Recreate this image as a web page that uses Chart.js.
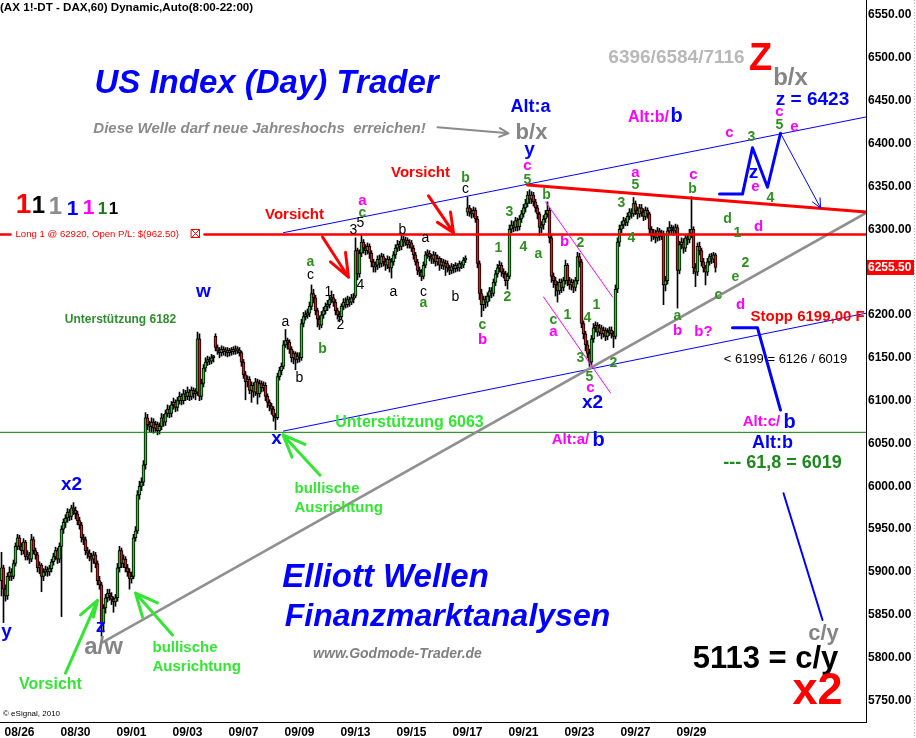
<!DOCTYPE html>
<html><head><meta charset="utf-8">
<script src="https://cdn.jsdelivr.net/npm/chart.js@4.4.0/dist/chart.umd.min.js"></script>
<style>html,body{margin:0;padding:0;background:#fff;overflow:hidden}canvas{display:block}</style>
</head><body>
<canvas id="c" width="916" height="738"></canvas>
<script>
// ---- axis labels ----
const tickLabels = ['08/26','08/30','09/01','09/03','09/07','09/09','09/13','09/15','09/17','09/21','09/23','09/27','09/29'];
const tickBars = [9,37,65,93,121,149,177,205,233,261,289,317,345];
const yTicks = [5750,5800,5850,5900,5950,6000,6050,6100,6150,6200,6250,6300,6350,6400,6450,6500,6550];
const lastPrice = 6255.5;

// ---- hourly DAX candles (8:00-22:00), 08/25 (partial) .. 09/29 ----
const opens = [
5890,5905,5880,5872,5895,5900,5895,5910,5930,
5940,5930,5925,5935,5918,5920,5915,5938,5925,5920,5905,5908,5895,5900,
5903,5900,5904,5912,5918,5925,5915,5930,5950,5958,5963,5970,5965,5975,
5972,5968,5960,5955,5940,5938,5925,5922,5918,5915,5920,5910,5890,5885,
5840,5858,5870,5875,5872,5868,5865,5870,5905,5925,5910,5915,5905,5900,
5892,5895,5940,5948,5990,6000,6005,6025,6080,6072,6070,6075,6068,6072,
6065,6070,6080,6075,6085,6090,6085,6095,6098,6092,6100,6105,6100,6108,
6105,6110,6105,6112,6108,6110,6172,6105,6120,6138,6145,6148,6146,6150,
6175,6162,6158,6156,6160,6157,6159,6156,6158,6157,6160,6158,6159,6156,
6145,6130,6122,6125,6112,6118,6110,6122,6108,6120,6115,6118,6105,6098,
6094,6090,6082,6080,6128,6135,6140,6165,6170,6168,6160,6150,6155,6148,
6152,6150,6190,6198,6200,6202,6210,6225,6220,6205,6195,6188,6200,6205,
6210,6212,6218,6220,6215,6205,6200,6198,6210,6215,6212,6218,6215,6220,
6222,6275,6248,6272,6285,6278,6275,6280,6272,6262,6256,6258,6265,6260,
6268,6262,6258,6265,6255,6262,6270,6278,6282,6280,6288,6285,6287,6282,
6284,6278,6270,6262,6252,6250,6245,6258,6270,6272,6268,6265,6270,6262,
6266,6258,6262,6257,6260,6255,6252,6256,6254,6258,6255,6260,6258,6264,
6320,6325,6320,6318,6322,6312,6260,6225,6212,6218,6215,6222,6228,6225,
6238,6248,6255,6258,6250,6248,6240,6245,6300,6305,6302,6310,6303,6312,
6318,6325,6330,6340,6335,6340,6332,6325,6318,6302,6305,6312,6318,6322,
6290,6245,6240,6235,6228,6238,6232,6240,6258,6240,6235,6238,6232,6240,
6268,6262,6190,6178,6165,6155,6145,6172,6185,6188,6180,6185,6178,6182,
6175,6180,6182,6178,6175,6230,6285,6300,6305,6310,6308,6315,6320,6318,
6330,6322,6318,6325,6320,6315,6322,6318,6300,6292,6295,6290,6298,6292,
6295,6235,6240,6298,6302,6300,6298,6302,6252,6282,6285,6278,6290,6288,
6295,6300,6255,6250,6280,6275,6262,6255,6250,6262,6268,6265,6270];
const highs = [
5923,5908,5885,5899,5906,5904,5914,5934,5944,
5943,5934,5939,5937,5925,5923,5944,5941,5928,5923,5912,5910,5904,5907,
5906,5908,5915,5922,5929,5928,5934,5954,5962,5967,5974,5973,5978,5981,
5976,5971,5964,5958,5944,5941,5929,5926,5922,5924,5923,5913,5895,5888,
5862,5874,5880,5880,5876,5871,5874,5910,5930,5928,5920,5918,5909,5904,
5900,5944,5953,5995,6006,6010,6030,6086,6084,6076,6080,6079,6076,6075,
6074,6085,6084,6089,6095,6094,6099,6103,6101,6104,6110,6108,6113,6112,
6116,6113,6116,6115,6114,6180,6178,6125,6142,6150,6152,6151,6154,6153,
6178,6165,6162,6164,6163,6162,6162,6161,6162,6163,6164,6163,6162,6158,
6148,6134,6129,6128,6122,6121,6126,6125,6124,6123,6122,6121,6108,6101,
6097,6093,6085,6132,6139,6144,6170,6183,6173,6171,6163,6158,6157,6156,
6156,6195,6203,6205,6207,6215,6235,6230,6223,6208,6199,6204,6209,6214,
6217,6222,6228,6224,6218,6208,6204,6213,6219,6220,6222,6221,6224,6225,
6290,6278,6276,6293,6288,6282,6284,6283,6275,6265,6262,6269,6270,6272,
6271,6266,6269,6268,6266,6274,6282,6287,6286,6294,6292,6291,6290,6288,
6287,6281,6273,6265,6256,6253,6262,6274,6276,6275,6271,6274,6273,6270,
6268,6266,6265,6264,6263,6258,6260,6259,6261,6260,6263,6262,6267,6269,
6338,6328,6324,6326,6325,6315,6263,6230,6222,6222,6226,6232,6232,6242,
6252,6259,6263,6261,6254,6251,6249,6305,6310,6309,6314,6313,6316,6322,
6329,6335,6344,6346,6344,6343,6335,6328,6320,6309,6316,6322,6332,6325,
6293,6249,6244,6239,6242,6242,6244,6264,6260,6244,6242,6241,6244,6273,
6272,6265,6193,6181,6170,6160,6176,6190,6192,6191,6189,6188,6186,6185,
6184,6186,6186,6181,6235,6290,6305,6309,6314,6313,6319,6324,6324,6337,
6333,6326,6329,6329,6324,6326,6325,6320,6303,6300,6299,6302,6301,6299,
6298,6245,6302,6309,6305,6304,6306,6305,6286,6290,6289,6294,6293,6300,
6338,6303,6260,6284,6285,6278,6266,6258,6266,6271,6272,6273,6272];
const lows = [
5872,5841,5866,5868,5890,5890,5892,5907,5926,
5926,5920,5921,5914,5914,5910,5912,5921,5915,5900,5898,5877,5890,5896,
5895,5896,5900,5908,5914,5910,5911,5848,5945,5952,5958,5960,5961,5967,
5962,5955,5950,5935,5932,5920,5916,5913,5900,5910,5905,5885,5880,5825,
5830,5852,5865,5867,5862,5853,5860,5866,5900,5905,5905,5900,5895,5880,
5887,5892,5936,5945,5985,5995,6001,6020,6066,6064,6063,6062,6064,6060,
6061,6066,6070,6071,6081,6080,6081,6090,6087,6088,6096,6095,6096,6100,
6101,6100,6101,6103,6101,6106,6100,6101,6116,6134,6141,6142,6143,6145,
6158,6154,6150,6152,6153,6152,6151,6152,6153,6154,6154,6155,6152,6140,
6126,6101,6116,6108,6098,6104,6106,6096,6104,6110,6111,6100,6092,6088,
6084,6076,6066,6078,6124,6130,6137,6162,6160,6155,6145,6143,6136,6144,
6145,6147,6186,6194,6196,6198,6206,6214,6200,6186,6183,6185,6196,6201,
6205,6208,6214,6210,6200,6195,6192,6195,6206,6208,6209,6210,6212,6214,
6220,6241,6244,6268,6272,6270,6271,6266,6256,6250,6250,6253,6255,6256,
6257,6252,6254,6250,6243,6258,6266,6274,6275,6276,6280,6281,6278,6278,
6274,6265,6258,6247,6245,6240,6242,6255,6266,6263,6260,6260,6257,6258,
6252,6254,6253,6246,6250,6247,6248,6249,6250,6251,6251,6254,6255,6261,
6316,6315,6313,6314,6308,6255,6218,6198,6205,6208,6210,6216,6220,6222,
6234,6244,6250,6245,6243,6234,6230,6242,6296,6297,6298,6298,6299,6308,
6314,6320,6326,6330,6330,6327,6320,6312,6293,6296,6300,6308,6314,6284,
6238,6232,6222,6215,6224,6226,6228,6236,6234,6230,6229,6226,6228,6236,
6256,6185,6172,6158,6150,6140,6142,6168,6180,6175,6176,6172,6174,6170,
6171,6176,6173,6162,6172,6226,6280,6296,6301,6304,6304,6311,6313,6315,
6317,6312,6314,6315,6310,6311,6313,6295,6286,6288,6284,6286,6287,6288,
6212,6228,6236,6294,6295,6293,6294,6208,6248,6277,6272,6274,6282,6284,
6290,6248,6233,6246,6270,6257,6250,6235,6246,6258,6260,6261,6250];
const closes = [
5905,5880,5872,5895,5900,5895,5910,5930,5940,
5930,5925,5935,5918,5920,5915,5938,5925,5920,5905,5908,5895,5900,5903,
5900,5904,5912,5918,5925,5915,5930,5950,5958,5963,5970,5965,5975,5972,
5968,5960,5955,5940,5938,5925,5922,5918,5915,5920,5910,5890,5885,5840,
5858,5870,5875,5872,5868,5865,5870,5905,5925,5910,5915,5905,5900,5892,
5895,5940,5948,5990,6000,6005,6025,6080,6072,6070,6075,6068,6072,6065,
6070,6080,6075,6085,6090,6085,6095,6098,6092,6100,6105,6100,6108,6105,
6110,6105,6112,6108,6110,6172,6105,6120,6138,6145,6148,6146,6150,6150,
6162,6158,6156,6160,6157,6159,6156,6158,6157,6160,6158,6159,6156,6145,
6130,6122,6125,6112,6118,6110,6122,6108,6120,6115,6118,6105,6098,6094,
6090,6082,6080,6128,6135,6140,6165,6170,6168,6160,6150,6155,6148,6152,
6150,6190,6198,6200,6202,6210,6225,6220,6205,6195,6188,6200,6205,6210,
6212,6218,6220,6215,6205,6200,6198,6210,6215,6212,6218,6215,6220,6218,
6275,6248,6272,6285,6278,6275,6280,6272,6262,6256,6258,6265,6260,6268,
6262,6258,6265,6255,6262,6270,6278,6282,6280,6288,6285,6287,6282,6284,
6278,6270,6262,6252,6250,6245,6258,6270,6272,6268,6265,6270,6262,6266,
6258,6262,6257,6260,6255,6252,6256,6254,6258,6255,6260,6258,6264,6266,
6325,6320,6318,6322,6312,6260,6225,6212,6218,6215,6222,6228,6225,6238,
6248,6255,6258,6250,6248,6240,6245,6300,6305,6302,6310,6303,6312,6318,
6325,6330,6340,6335,6340,6332,6325,6318,6302,6305,6312,6318,6322,6290,
6245,6240,6235,6228,6238,6232,6240,6258,6240,6235,6238,6232,6240,6268,
6262,6190,6178,6165,6155,6145,6172,6185,6188,6180,6185,6178,6182,6175,
6180,6182,6178,6175,6230,6285,6300,6305,6310,6308,6315,6320,6318,6330,
6322,6318,6325,6320,6315,6322,6318,6300,6292,6295,6290,6298,6292,6295,
6235,6240,6298,6302,6300,6298,6302,6252,6282,6285,6278,6290,6288,6295,
6300,6255,6250,6280,6275,6262,6255,6250,6262,6268,6265,6270,6255.5];

// ---- annotations (bar index, price) ----
const FONT = "'Liberation Sans', Arial, Helvetica, sans-serif";
const C = {blue:'#0000ff', mag:'#ff00ff', grn:'#2f8f1f', lime:'#33e633', red:'#ff0000', gray:'#858585', blk:'#000000'};
const waveStyle = {
  B:['bold 19px', C.blue], M:['bold 15px', C.mag], G:['bold 14px', C.grn], K:['14px', C.blk]
};
const waveLabels = [
['y',2.5,5830,'B'],['x2',35,6001.5,'B'],['z',49.5,5836,'B'],['w',101,6227,'B'],['x',137.5,6056,'B'],
['y',264,6392.5,'B'],['x2',295.5,6098,'B'],['z',376,6366,'B'],
['a',180.5,6333,'M'],['c',263,6374,'M'],['b',240.5,6171,'M'],['b',281.5,6285,'M'],['a',276,6180,'M'],
['c',294.5,6115,'M'],['a',317,6366,'M'],['c',346,6363,'M'],['d',378.5,6303,'M'],['d',369.5,6212,'M'],
['b',338,6181,'M'],['b?',351,6180,'M'],['c',364,6412,'M'],['e',377,6349,'M'],['c',389,6437,'M'],['e',396.5,6419,'M'],
['a',154.5,6262,'G'],['c',180.5,6319,'G'],['b',160.5,6160,'G'],['b',232,6360,'G'],['c',240.5,6188,'G'],
['a',211,6214,'G'],['1',248.5,6278,'G'],['2',253,6221,'G'],['3',254,6320,'G'],['4',261,6279,'G'],
['5',263,6357,'G'],['a',268.5,6271,'G'],['b',272.5,6340,'G'],['2',289.5,6284,'G'],['c',276,6194,'G'],
['1',283,6200,'G'],['1',297.5,6212,'G'],['4',293,6196,'G'],['3',289.5,6150,'G'],['5',294,6127,'G'],
['2',306,6144,'G'],['5',317,6352,'G'],['3',310,6331,'G'],['4',315,6290,'G'],['b',345.5,6347,'G'],
['d',363,6312,'G'],['1',368,6296,'G'],['2',372,6261,'G'],['e',367,6244,'G'],['c',358.5,6223,'G'],
['a',338,6199,'G'],['3',375,6408,'G'],['4',384.5,6336,'G'],['5',389,6422,'G'],
['a',142,6192,'K'],['b',149,6126,'K'],['c',154.5,6247,'K'],['1',163.5,6227,'K'],['2',169.5,6188,'K'],
['3',176,6299,'K'],['5',179.5,6307,'K'],['4',179.5,6235,'K'],['b',200.5,6299,'K'],['a',196,6227,'K'],
['a',212,6290,'K'],['c',211,6227,'K'],['b',227,6221,'K'],['c',232,6347,'K']
];
const textNotes = [
['US Index (Day) Trader',132.5,6469.5,'italic bold 33px',C.blue,'center'],
['Diese Welle darf neue Jahreshochs  erreichen!',129,6417,'italic bold 15px','#8a8a8a','center'],
['b/x',265,6412,'bold 22px',C.gray,'center'],
['Alt:a',264.5,6442.6,'bold 18px',C.blue,'center'],
['6396/6584/7116',337.5,6500,'bold 19px','#b8b8b8','center'],
['Z',379.5,6497.5,'bold 38px',C.red,'center'],
['b/x',394.5,6476.5,'bold 24px',C.gray,'center'],
['z = 6423',405.5,6451,'bold 19px',C.blue,'center'],
['Alt:b/',323.5,6430,'bold 16px',C.mag,'center'],
['b',337.5,6431,'bold 20px',C.blue,'center'],
['Vorsicht',146.5,6316.6,'bold 15px',C.red,'center'],
['Vorsicht',209.5,6365.6,'bold 15px',C.red,'center'],
['Stopp 6199,00 F',374.5,6197.6,'bold 15px',C.red,'left'],
['< 6199 = 6126 / 6019',392,6148.5,'13px',C.blk,'center'],
['Alt:c/',380,6075,'bold 15px',C.mag,'center'],
['b',394,6075,'bold 20px',C.blue,'center'],
['Alt:b',385.5,6050.5,'bold 18px',C.blue,'center'],
['--- 61,8 = 6019',390.5,6027,'bold 18px','#1e8a1e','center'],
['Alt:a/',284.5,6054,'bold 15px',C.mag,'center'],
['b',298.5,6054,'bold 20px',C.blue,'center'],
['c/y',411,5827.6,'bold 22px',C.gray,'center'],
['5113 = c/y',382,5798.5,'bold 31px',C.blk,'center'],
['x2',408,5760,'bold 45px',C.red,'center'],
['a/w',51,5812.5,'bold 24px',C.gray,'center'],
['Unterstützung 6182',59.5,6195,'bold 12px','#2f8f2f','center'],
['Unterstützung 6063',204,6074,'bold 16px',C.lime,'center'],
['bullische',146.5,5997,'bold 15px',C.lime,'left'],
['Ausrichtung',146.5,5975,'bold 15px',C.lime,'left'],
['bullische',75.5,5811,'bold 15px',C.lime,'left'],
['Ausrichtung',75.5,5789,'bold 15px',C.lime,'left'],
['Vorsicht',24.5,5769,'bold 16px',C.lime,'center'],
['Elliott Wellen',192,5893,'italic bold 33px',C.blue,'center'],
['Finanzmarktanalysen',223,5847.5,'italic bold 32px',C.blue,'center'],
['www.Godmode-Trader.de',198,5804,'italic bold 14px','#808080','center'],
['Long 1 @ 62920, Open P/L: $(962.50)',7,6294,'9.6px',C.red,'left']
];
const ones = [
['1',11,6328,'bold 28px',C.red],['1',18.5,6327,'bold 24px',C.blk],['1',27,6326,'bold 24px','#8c8c8c'],
['1',35.5,6323.5,'bold 21px',C.blue],['1',43.5,6324,'bold 21px',C.mag],['1',50.5,6323.5,'bold 17px','#1a7a1a'],
['1',56,6323.5,'bold 17px',C.blk]
];
// trend lines: points [bar, price], color, width
const trendLines = [
[[[-0.75,6063],[432.25,6063]],'#008000',1],
[[[141,6296],[432.25,6431]],C.blue,1],
[[[141,6064.5],[432.25,6202]],C.blue,1],
[[[50.5,5818],[432.25,6319]],'#8f8f8f',2.5],
[[[-0.75,6294],[4.5,6294]],C.red,2.5],
[[[101.5,6294],[432.25,6294]],C.red,2.5],
[[[263,6351.6],[432.25,6320]],C.red,3],
[[[272,6332],[305.5,6221]],C.mag,1],
[[[271,6221],[304.5,6109]],C.mag,1],
[[[359,6341],[370.5,6341],[375.5,6395],[383,6349],[389.5,6412]],C.blue,3],
[[[365.5,6185],[378,6185],[389.5,6089]],C.blue,3],
[[[391,5992],[410.5,5844]],C.blue,2]
];
const arrows = [ // [from, to], color, width
[[389.5,6412],[409.5,6325],C.blue,1,10],
[[218,6419],[253.5,6412],'#8a8a8a',2,10]
];
const fans = [ // apex, tails, color
[[173.5,6244],[[160.5,6291],[164.5,6262],[172,6273]],C.red],
[[226,6296],[[213.5,6339],[218,6308],[224.5,6320]],C.red],
[[140.75,6060],[[159.25,6013],[151.75,6049],[145.25,6034]],C.lime],
[[48,5867],[[32,5782],[39.5,5850],[46,5847.5]],C.lime],
[[67,5875.5],[[85.5,5826.5],[78,5864],[70.5,5847.5]],C.lime]
];

const wick = closes.map((c,i)=>({x:i, y:[lows[i], highs[i]]}));
const body = closes.map((c,i)=>({x:i, y:[opens[i], c]}));
const bodyColor = closes.map((c,i)=> c>=opens[i] ? '#1fcf1f' : '#e01818');

const bg = {id:'bg', beforeDraw(ch){const c=ch.ctx; c.save(); c.fillStyle='#fff'; c.fillRect(0,0,ch.width,ch.height); c.restore();}};

const annot = {
  id:'annot',
  afterDatasetsDraw(ch){
    const ctx = ch.ctx, xs = ch.scales.x, ys = ch.scales.y, a = ch.chartArea;
    const X = v=>xs.getPixelForValue(v), Y = v=>ys.getPixelForValue(v);
    ctx.save();
    ctx.beginPath(); ctx.rect(a.left, a.top, a.right-a.left, a.bottom-a.top); ctx.clip();
    ctx.lineCap='round'; ctx.lineJoin='round';
    for (const [pts,col,w] of trendLines){
      ctx.beginPath(); ctx.strokeStyle=col; ctx.lineWidth=w;
      pts.forEach((p,k)=> k? ctx.lineTo(X(p[0]),Y(p[1])) : ctx.moveTo(X(p[0]),Y(p[1])));
      ctx.stroke();
    }
    for (const [f,t,col,w,hl] of arrows){
      const x1=X(f[0]),y1=Y(f[1]),x2=X(t[0]),y2=Y(t[1]);
      ctx.beginPath(); ctx.strokeStyle=col; ctx.lineWidth=w;
      ctx.moveTo(x1,y1); ctx.lineTo(x2,y2);
      const ang=Math.atan2(y2-y1,x2-x1);
      for (const s of [-0.45,0.45]){ ctx.moveTo(x2,y2); ctx.lineTo(x2-hl*Math.cos(ang+s), y2-hl*Math.sin(ang+s)); }
      ctx.stroke();
    }
    for (const [ap,tails,col] of fans){
      ctx.beginPath(); ctx.strokeStyle=col; ctx.lineWidth=3;
      for (const t of tails){ ctx.moveTo(X(t[0]),Y(t[1])); ctx.lineTo(X(ap[0]),Y(ap[1])); }
      ctx.stroke();
    }
    ctx.textBaseline='middle';
    for (const [s,i,p,f,col,al] of textNotes){
      ctx.font = f+' '+FONT; ctx.fillStyle=col; ctx.textAlign=al; ctx.fillText(s, X(i), Y(p));
    }
    ctx.strokeStyle=C.red; ctx.lineWidth=1;
    const bx=191.5, by=Math.round(Y(6294))-4.5;
    ctx.strokeRect(bx,by,8,8); ctx.beginPath(); ctx.moveTo(bx,by); ctx.lineTo(bx+8,by+8); ctx.moveTo(bx+8,by); ctx.lineTo(bx,by+8); ctx.stroke();
    ctx.textAlign='center';
    for (const [s,i,p,f,col] of ones){ ctx.font=f+' '+FONT; ctx.fillStyle=col; ctx.fillText(s,X(i),Y(p)); }
    for (const [s,i,p,k] of waveLabels){
      const st = waveStyle[k]; ctx.font = st[0]+' '+FONT; ctx.fillStyle = st[1]; ctx.fillText(s, X(i), Y(p));
    }
    ctx.restore();
  },
  afterDraw(ch){
    const ctx=ch.ctx, ys=ch.scales.y, a=ch.chartArea;
    ctx.save();
    ctx.font='bold 11.6px '+FONT; ctx.fillStyle='#000'; ctx.textAlign='left'; ctx.textBaseline='middle';
    ctx.fillText('(AX 1!-DT - DAX,60) Dynamic,Auto(8:00-22:00)', 0, 8);
    ctx.font='8px '+FONT; ctx.fillText('\u00A9 eSignal, 2010', 3, a.bottom-8);
    const yy = ys.getPixelForValue(lastPrice);
    ctx.fillStyle='#ff0000'; ctx.fillRect(a.right+1, Math.round(yy)-7, 47, 15);
    ctx.fillStyle='#fff'; ctx.font='bold 12px '+FONT; ctx.fillText(lastPrice.toFixed(2), a.right+2, Math.round(yy)+1);
    ctx.strokeStyle='#b0b0c8'; ctx.setLineDash([1,2]); ctx.lineWidth=1;
    ctx.beginPath(); ctx.moveTo(914.5,0); ctx.lineTo(914.5,738); ctx.stroke();
    ctx.restore();
  }
};

const noPad = s => { s.paddingTop = 0; s.paddingBottom = 0; s.paddingLeft = 0; s.paddingRight = 0; };

new Chart(document.getElementById('c'), {
  type:'bar',
  data:{datasets:[
    {data:wick, backgroundColor:'#000', barThickness:1, grouped:false, order:2},
    {data:body, backgroundColor:bodyColor, borderColor:'#000', borderWidth:1, borderSkipped:false, barThickness:3, minBarLength:2, grouped:false, order:1}
  ]},
  options:{
    responsive:false, animation:false, devicePixelRatio:1,
    layout:{padding:0, autoPadding:false},
    plugins:{legend:{display:false}, tooltip:{enabled:false}},
    scales:{
      x:{type:'linear', min:-0.75, max:432.25, offset:false,
         grid:{display:false, drawTicks:false, tickLength:0}, border:{display:true, color:'#000', width:1},
         afterBuildTicks:s=>{s.ticks = tickBars.map(v=>({value:v}));},
         afterFit:s=>{s.height=16; noPad(s);},
         ticks:{autoSkip:false, maxRotation:0, minRotation:0, padding:3, color:'#000',
                font:{family:FONT, size:12, weight:'bold'}, callback:(v,i)=>tickLabels[i]}},
      y:{position:'right', min:5725, max:6567.5,
         grid:{display:false, drawTicks:false, tickLength:0}, border:{display:true, color:'#000', width:1},
         afterBuildTicks:s=>{s.ticks = yTicks.map(v=>({value:v}));},
         afterFit:s=>{s.width=50; noPad(s);},
         ticks:{padding:2, color:'#000', font:{family:FONT, size:12, weight:'bold'}, callback:v=>Number(v).toFixed(2)}}
    }
  },
  plugins:[bg, annot]
});
</script>
</body></html>
